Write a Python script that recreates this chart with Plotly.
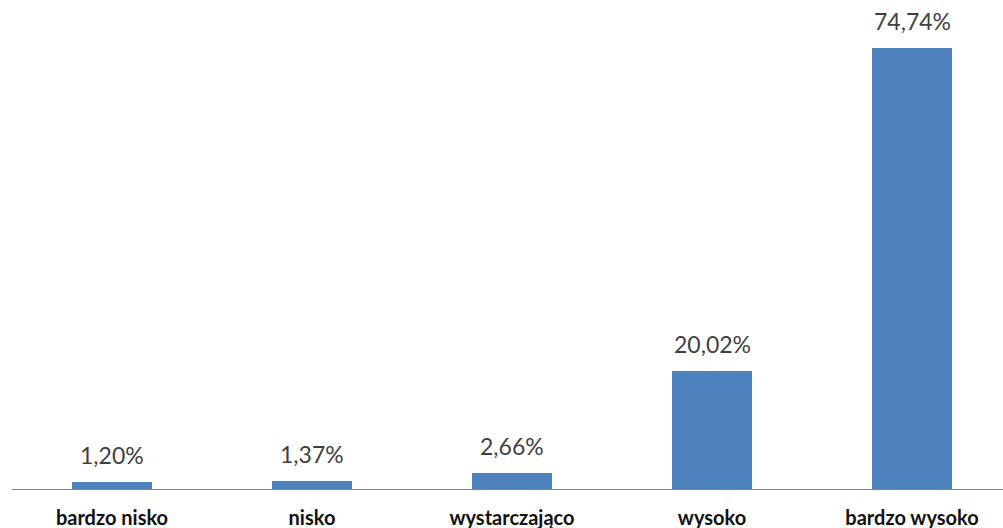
import plotly.graph_objects as go

categories = ["bardzo nisko", "nisko", "wystarczająco", "wysoko", "bardzo wysoko"]
values = [1.20, 1.37, 2.66, 20.02, 74.74]
labels = ["1,20%", "1,37%", "2,66%", "20,02%", "74,74%"]

fig = go.Figure()
fig.add_trace(go.Bar(
    x=list(range(len(categories))), y=values,
    width=0.4, marker=dict(color="#4F81BD", line=dict(width=0)),
    hoverinfo="skip",
))
for i, (v, t) in enumerate(zip(values, labels)):
    fig.add_annotation(x=i, y=v, text=t, showarrow=False, yanchor="bottom",
                       yshift=11, font=dict(family="Lato", size=23, color="#404040"))

fig.update_layout(
    width=1003, height=528,
    margin=dict(l=12, r=0, t=0, b=39),
    plot_bgcolor="white", paper_bgcolor="white",
    showlegend=False,
    bargap=0,
)
fig.update_xaxes(
    range=[-0.5, 4.455], tickmode="array", tickvals=list(range(len(categories))),
    ticktext=categories, showline=True, linecolor="#868686", linewidth=1,
    showgrid=False, zeroline=False, ticks="",
    tickfont=dict(family="Lato", size=20, color="#111111", weight="bold"),
    ticklabelstandoff=11,
)
fig.update_yaxes(range=[0, 82.9], visible=False, showgrid=False, zeroline=False)

fig.write_html("out.html")
